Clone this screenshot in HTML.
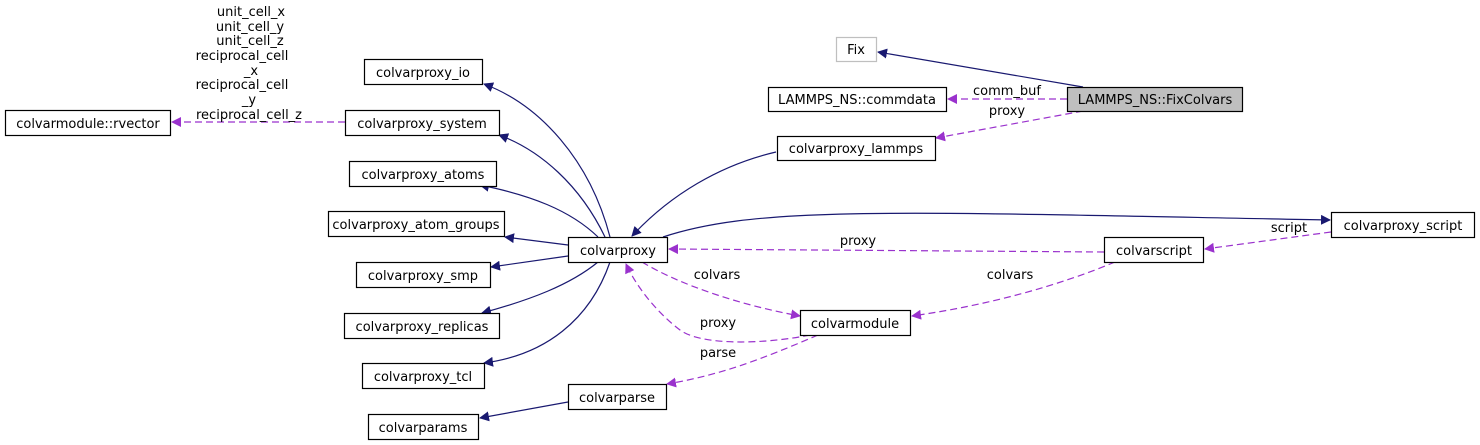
<!DOCTYPE html>
<html><head><meta charset="utf-8"><style>
html,body{margin:0;padding:0;background:#fff;}
svg{display:block;}
text{font-family:"DejaVu Sans","Liberation Sans",sans-serif;font-size:13px;fill:#000;}
</style></head><body>
<svg width="1480" height="445" viewBox="0 0 1480 445" xmlns="http://www.w3.org/2000/svg">
<defs>
<marker id="b" viewBox="0 0 10 10" refX="9" refY="5" markerWidth="10" markerHeight="10" markerUnits="userSpaceOnUse" orient="auto"><path d="M0,0 L10,5 L0,10 z" fill="#191970"/></marker>
<marker id="p" viewBox="0 0 10 10" refX="9" refY="5" markerWidth="10" markerHeight="10" markerUnits="userSpaceOnUse" orient="auto"><path d="M0,0 L10,5 L0,10 z" fill="#9a32cd"/></marker>
</defs>
<g fill="none" stroke="#191970" stroke-width="1.2">
<path d="M1083,87 L878,52" marker-end="url(#b)"/>
<path d="M776,152 C720,165 670,195 632,236" marker-end="url(#b)"/>
<path d="M610,237 C590,160 540,105 484,84" marker-end="url(#b)"/>
<path d="M605,237 C580,185 540,150 499,135" marker-end="url(#b)"/>
<path d="M598,237 C570,210 530,195 480,185" marker-end="url(#b)"/>
<path d="M568,245 L505,237" marker-end="url(#b)"/>
<path d="M568,256 L491,267" marker-end="url(#b)"/>
<path d="M598,262 C570,285 530,300 482,313" marker-end="url(#b)"/>
<path d="M610,262 C590,320 545,355 484,363" marker-end="url(#b)"/>
<path d="M663,237 C760,205 900,212 1330,220" marker-end="url(#b)"/>
<path d="M568,402 L480,418" marker-end="url(#b)"/>
</g>
<g fill="none" stroke="#9a32cd" stroke-width="1.2" stroke-dasharray="7,4">
<path d="M1067,99 L948,99" marker-end="url(#p)"/>
<path d="M1083,111 L936,138" marker-end="url(#p)"/>
<path d="M345,122 L172,122" marker-end="url(#p)"/>
<path d="M1104,252 L669,249" marker-end="url(#p)"/>
<path d="M642,262 C680,285 740,305 800,316" marker-end="url(#p)"/>
<path d="M1115,262 C1060,285 990,305 912,316" marker-end="url(#p)"/>
<path d="M810,335 C760,345 700,345 680,330 C660,315 638,290 626,264" marker-end="url(#p)"/>
<path d="M818,335 C760,360 720,375 667,384" marker-end="url(#p)"/>
<path d="M1331,232 L1205,249" marker-end="url(#p)"/>
</g>
<g stroke-width="1.2">
<rect x="836.5" y="37.5" width="40" height="24" fill="#fff" stroke="#bfbfbf"/>
<rect x="768.5" y="87.5" width="178" height="24" fill="#fff" stroke="#000"/>
<rect x="1067.5" y="87.5" width="175" height="24" fill="#bfbfbf" stroke="#000"/>
<rect x="777.5" y="136.5" width="158" height="24" fill="#fff" stroke="#000"/>
<rect x="364.5" y="59.5" width="118" height="25" fill="#fff" stroke="#000"/>
<rect x="345.5" y="110.5" width="154" height="25" fill="#fff" stroke="#000"/>
<rect x="5.5" y="110.5" width="165" height="25" fill="#fff" stroke="#000"/>
<rect x="349.5" y="161.5" width="147" height="25" fill="#fff" stroke="#000"/>
<rect x="328.5" y="211.5" width="176" height="25" fill="#fff" stroke="#000"/>
<rect x="356.5" y="262.5" width="134" height="25" fill="#fff" stroke="#000"/>
<rect x="344.5" y="313.5" width="155" height="25" fill="#fff" stroke="#000"/>
<rect x="362.5" y="363.5" width="122" height="25" fill="#fff" stroke="#000"/>
<rect x="368.5" y="414.5" width="110" height="25" fill="#fff" stroke="#000"/>
<rect x="568.5" y="237.5" width="99" height="25" fill="#fff" stroke="#000"/>
<rect x="1331.5" y="212.5" width="143" height="25" fill="#fff" stroke="#000"/>
<rect x="1104.5" y="237.5" width="99" height="25" fill="#fff" stroke="#000"/>
<rect x="800.5" y="310.5" width="110" height="25" fill="#fff" stroke="#000"/>
<rect x="568.5" y="384.5" width="98" height="25" fill="#fff" stroke="#000"/>
</g>
<g text-anchor="middle">
<text x="856" y="54">Fix</text>
<text x="857" y="104">LAMMPS_NS::commdata</text>
<text x="1155" y="104">LAMMPS_NS::FixColvars</text>
<text x="856" y="153">colvarproxy_lammps</text>
<text x="423" y="77">colvarproxy_io</text>
<text x="422" y="128">colvarproxy_system</text>
<text x="88" y="128">colvarmodule::rvector</text>
<text x="423" y="179">colvarproxy_atoms</text>
<text x="416" y="229">colvarproxy_atom_groups</text>
<text x="423" y="280">colvarproxy_smp</text>
<text x="422" y="331">colvarproxy_replicas</text>
<text x="423" y="381">colvarproxy_tcl</text>
<text x="423" y="432">colvarparams</text>
<text x="618" y="255">colvarproxy</text>
<text x="1403" y="230">colvarproxy_script</text>
<text x="1154" y="255">colvarscript</text>
<text x="855" y="328">colvarmodule</text>
<text x="617" y="402">colvarparse</text>
<text x="1007" y="95">comm_buf</text>
<text x="1007" y="115">proxy</text>
<text x="858" y="245">proxy</text>
<text x="1010" y="279">colvars</text>
<text x="717" y="279">colvars</text>
<text x="718" y="327">proxy</text>
<text x="718" y="357">parse</text>
<text x="1289" y="232">script</text>
<text x="251" y="16">unit_cell_x</text>
<text x="250" y="31">unit_cell_y</text>
<text x="250" y="45">unit_cell_z</text>
<text x="242" y="60">reciprocal_cell</text>
<text x="251" y="75">_x</text>
<text x="242" y="89">reciprocal_cell</text>
<text x="249" y="104">_y</text>
<text x="249" y="119">reciprocal_cell_z</text>
</g>
</svg>
</body></html>
